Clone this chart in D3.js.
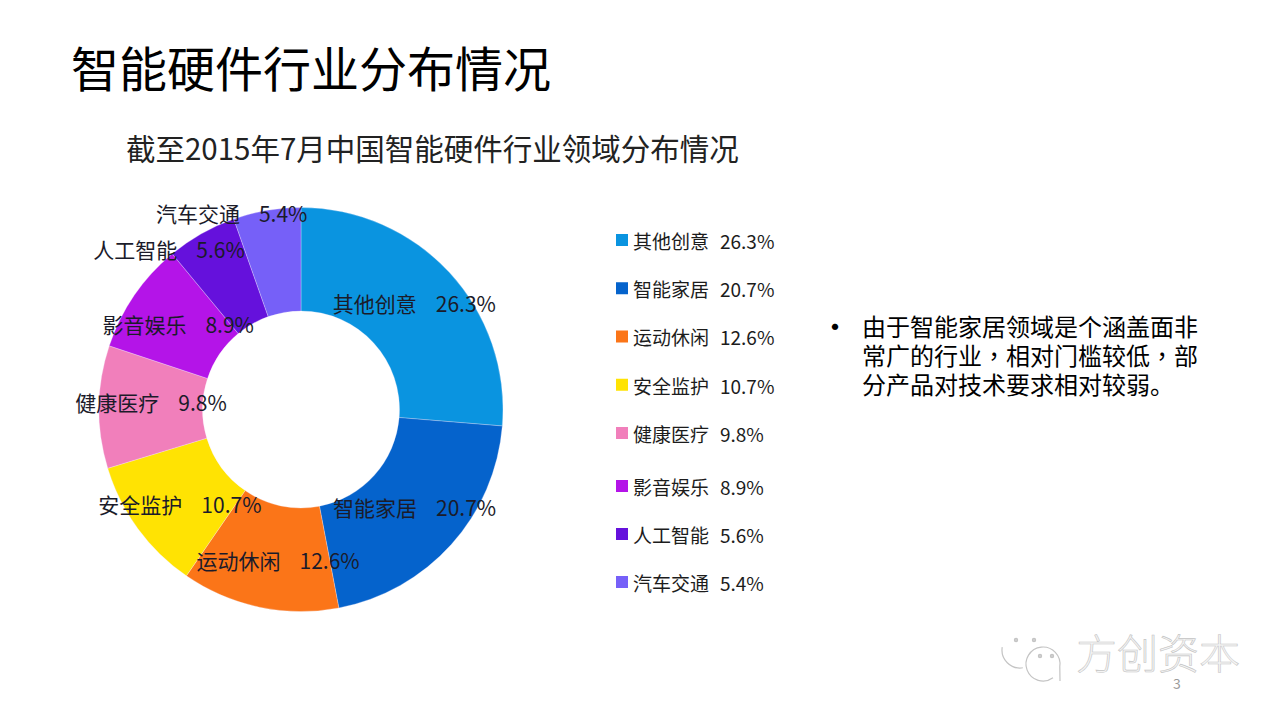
<!DOCTYPE html>
<html>
<head>
<meta charset="utf-8">
<script src="https://cdn.jsdelivr.net/npm/d3@7"></script>
<style>
html, body { margin: 0; padding: 0; background: #fff; }
svg { display: block; }
text { font-family: "Noto Sans CJK SC", "Noto Sans", sans-serif; fill: #1c1c1c; }
</style>
</head>
<body>
<svg width="1280" height="720"></svg>
<script>
var categories = ['其他创意', '智能家居', '运动休闲', '安全监护', '健康医疗', '影音娱乐', '人工智能', '汽车交通'];
var shares = [26.3, 20.7, 12.6, 10.7, 9.8, 8.9, 5.6, 5.4];
var colors = ['#0a94e0', '#0563cc', '#fb7518', '#ffe303', '#f17fbb', '#b414e8', '#6511dc', '#7660f8'];
var mainTitle = '智能硬件行业分布情况';
var chartTitle = '截至2015年7月中国智能硬件行业领域分布情况';
var noteLines = ['由于智能家居领域是个涵盖面非', '常广的行业，相对门槛较低，部', '分产品对技术要求相对较弱。'];

var svg = d3.select('svg');
var data = categories.map(function(c, i) { return {name: c, value: shares[i], color: colors[i]}; });

addTitles();
addDonut();
addLegend();
addNote();
addWatermark();

function addTitles() {
    svg.append('text').attr('x', 71).attr('y', 87)
        .style('font-size', '48px').style('fill', '#000').text(mainTitle);
    svg.append('text').attr('x', 126).attr('y', 160)
        .style('font-size', '29.5px').style('fill', '#222').text(chartTitle);
}

function addDonut() {
    var g = svg.append('g').attr('transform', 'translate(301,409.5)');
    var pie = d3.pie().sort(null).value(function(d) { return d.value; });
    var arc = d3.arc().innerRadius(98.5).outerRadius(202);
    var labelArc = d3.arc().innerRadius(150).outerRadius(150);
    // the two smallest slices had their labels dragged outwards by hand
    var nudge = {
        '其他创意': [3, -3], '智能家居': [2, -1], '运动休闲': [8, 5], '安全监护': [0, 7],
        '健康医疗': [0, -4], '影音娱乐': [1, 1], '人工智能': [-58, -29], '汽车交通': [-44, -47]
    };

    var slices = pie(data);
    g.selectAll('path').data(slices).enter().append('path')
        .attr('d', arc)
        .attr('fill', function(d) { return d.data.color; })
        .attr('stroke', '#f6eefc').attr('stroke-width', 0.3);

    var labels = g.selectAll('text.lbl').data(slices).enter().append('text').attr('class', 'lbl')
        .attr('transform', function(d) {
            var c = labelArc.centroid(d);
            var n = nudge[d.data.name];
            return 'translate(' + (c[0] + n[0]) + ',' + (c[1] + n[1]) + ')';
        })
        .attr('text-anchor', 'middle').attr('dy', '0.36em')
        .style('font-size', '21px')
        .style('fill', '#1b1b2a');
    labels.append('tspan').text(function(d) { return d.data.name; });
    labels.append('tspan').attr('dx', 19).text(function(d) { return d.data.value.toFixed(1) + '%'; });
}

function addLegend() {
    // rows are evenly spaced except for a wider gap before the sixth
    var rowY = d3.scaleLinear().domain([0, 4, 5, 7]).range([241, 434, 487, 583]);
    var rows = svg.selectAll('g.legend').data(data).enter().append('g').attr('class', 'legend')
        .attr('transform', function(d, i) { return 'translate(616,' + rowY(i) + ')'; });
    rows.append('rect')
        .attr('x', 0).attr('y', -7).attr('width', 12).attr('height', 12)
        .attr('fill', function(d) { return d.color; });
    rows.append('text')
        .attr('x', 17).attr('y', 1).attr('dy', '0.36em')
        .style('font-size', '19px')
        .text(function(d) { return d.name; });
    rows.append('text')
        .attr('x', 104).attr('y', 1).attr('dy', '0.36em')
        .style('font-size', '19px')
        .text(function(d) { return d.value.toFixed(1) + '%'; });
}

function addNote() {
    svg.append('text').attr('x', 820).attr('y', 338)
        .style('font-size', '30px').style('fill', '#000').text('•');
    svg.selectAll('text.note').data(noteLines).enter().append('text').attr('class', 'note')
        .attr('x', 862)
        .attr('y', function(d, i) { return 336 + i * 29; })
        .style('font-size', '24px').style('fill', '#000')
        .each(function(d) {
            // commas sit centred in their cell here, which the TC font does
            var line = d3.select(this);
            d.split(/(，)/).forEach(function(part) {
                line.append('tspan')
                    .style('font-family', part === '，' ? '"Noto Sans CJK TC"' : null)
                    .text(part);
            });
        });
}

function addWatermark() {
    var g = svg.append('g').attr('fill', 'none').attr('stroke', '#c4c4c4').attr('stroke-width', 1.2);
    var big = d3.path();
    big.arc(1020, 650, 18, Math.PI * 0.45, Math.PI * 1.05);
    g.append('path').attr('d', big.toString());
    var small = d3.path();
    small.arc(1043, 664, 17, Math.PI * 0.3, Math.PI * 2.05);
    small.lineTo(1060, 681);
    g.append('path').attr('d', small.toString());
    [[1016, 640], [1034, 640], [1040, 656], [1052, 656]].forEach(function(p) {
        g.append('circle').attr('cx', p[0]).attr('cy', p[1]).attr('r', 1.6).attr('fill', '#d0d0d0');
    });
    svg.append('text').attr('x', 1076).attr('y', 669)
        .style('font-size', '41px').style('font-weight', 300)
        .style('fill', '#f4f4f4').style('stroke', '#c4c4c4').style('stroke-width', 0.6)
        .text('方创资本');
    svg.append('text').attr('x', 1177).attr('y', 689).attr('text-anchor', 'middle')
        .style('font-size', '14px').style('fill', '#9a9a9a').text('3');
}
</script>
</body>
</html>
